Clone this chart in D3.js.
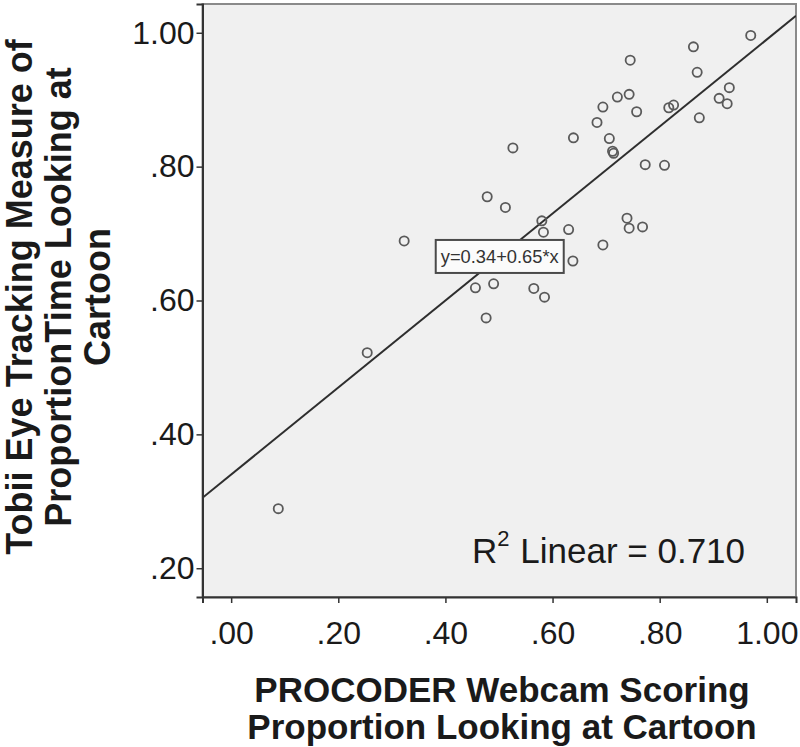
<!DOCTYPE html>
<html>
<head>
<meta charset="utf-8">
<script src="https://cdn.jsdelivr.net/npm/d3@7"></script>
<style>
  html, body { margin: 0; padding: 0; background: #ffffff; }
  svg { display: block; }
  text { font-family: "Liberation Sans", Arial, sans-serif; fill: #1a1a1a; }
</style>
</head>
<body>
<svg id="chart" width="800" height="747"></svg>
<script>
// ---- Data ----
const webcamScores = [0.970, 0.863, 0.745, 0.870, 0.930, 0.911, 0.926, 0.743, 0.721, 0.694,
                      0.757, 0.817, 0.826, 0.874, 0.683, 0.639, 0.706, 0.712, 0.714, 0.526,
                      0.773, 0.809, 0.512, 0.580, 0.583, 0.630, 0.739, 0.743, 0.768, 0.694,
                      0.478, 0.323, 0.254, 0.456, 0.490, 0.476, 0.638, 0.565, 0.585, 0.088];
const tobiiScores  = [0.996, 0.979, 0.959, 0.941, 0.918, 0.902, 0.894, 0.908, 0.904, 0.889,
                      0.882, 0.888, 0.892, 0.873, 0.866, 0.843, 0.842, 0.823, 0.820, 0.828,
                      0.803, 0.802, 0.739, 0.719, 0.702, 0.706, 0.723, 0.708, 0.710, 0.683,
                      0.755, 0.689, 0.522, 0.619, 0.625, 0.574, 0.659, 0.618, 0.605, 0.289];
const fitIntercept = 0.34;
const fitSlope = 0.65;
const rSquared = "0.710";
const equationLabel = "y=0.34+0.65*x";
const xTickValues = [0, 0.2, 0.4, 0.6, 0.8, 1.0];
const yTickValues = [0.2, 0.4, 0.6, 0.8, 1.0];
const xTitleLines = ["PROCODER Webcam Scoring", "Proportion Looking at Cartoon"];
const yTitleLines = ["Tobii Eye Tracking Measure of", "ProportionTime Looking at", "Cartoon"];

const points = webcamScores.map((x, i) => ({x, y: tobiiScores[i]}));

// ---- Layout ----
const svg = d3.select("#chart");
const plot = {left: 202.5, right: 796, top: 4, bottom: 597};

const x = d3.scaleLinear().domain([-0.0535, 1.0545]).range([plot.left, plot.right]);
const y = d3.scaleLinear().domain([0.157, 1.043]).range([plot.bottom, plot.top]);

const fmt = d => d >= 1 ? d3.format(".2f")(d) : d3.format(".2f")(d).replace(/^0/, "");

// plot background
svg.append("rect")
  .attr("x", plot.left).attr("y", plot.top)
  .attr("width", plot.right - plot.left).attr("height", plot.bottom - plot.top)
  .attr("fill", "#f0f0f0")
  .attr("stroke", "#8a8a8a").attr("stroke-width", 2);

svg.append("clipPath").attr("id", "clip")
  .append("rect")
  .attr("x", plot.left).attr("y", plot.top)
  .attr("width", plot.right - plot.left).attr("height", plot.bottom - plot.top);

// fit line
const xd = x.domain();
svg.append("line")
  .attr("clip-path", "url(#clip)")
  .attr("x1", x(xd[0])).attr("y1", y(fitIntercept + fitSlope * xd[0]))
  .attr("x2", x(xd[1])).attr("y2", y(fitIntercept + fitSlope * xd[1]))
  .attr("stroke", "#2e2e2e").attr("stroke-width", 2);

// points
svg.append("g").selectAll("circle")
  .data(points).join("circle")
  .attr("cx", d => x(d.x)).attr("cy", d => y(d.y))
  .attr("r", 4.6)
  .attr("fill", "none")
  .attr("stroke", "#5a5a5a").attr("stroke-width", 1.8);

// equation label box (anchored on the fit line)
const eqX = 0.507, eqY = fitIntercept + fitSlope * 0.507;
const eqG = svg.append("g").attr("transform", `translate(${x(eqX) - 3},${y(eqY) + 2})`);
eqG.append("rect")
  .attr("x", -64).attr("y", -16).attr("width", 128).attr("height", 33)
  .attr("fill", "#fbfbfb").attr("stroke", "#4a4a4a").attr("stroke-width", 2);
eqG.append("text")
  .attr("x", 0).attr("y", 7)
  .attr("text-anchor", "middle")
  .attr("font-size", 18)
  .attr("textLength", 118).attr("lengthAdjust", "spacingAndGlyphs")
  .style("fill", "#333")
  .text(equationLabel);

// axes
const yAxis = d3.axisLeft(y).tickValues(yTickValues).tickFormat(fmt).tickSize(6).tickPadding(2);
const gy = svg.append("g").attr("transform", `translate(${plot.left},0)`).call(yAxis);
const xAxis = d3.axisBottom(x).tickValues(xTickValues).tickFormat(fmt).tickSize(6).tickPadding(18);
const gx = svg.append("g").attr("transform", `translate(0,${plot.bottom})`).call(xAxis);
[gx, gy].forEach(g => {
  g.select(".domain").attr("stroke", "#333").attr("stroke-width", 2);
  g.selectAll(".tick line").attr("stroke", "#333").attr("stroke-width", 1.5);
  g.selectAll(".tick text")
    .attr("font-family", "'Liberation Sans', Arial, sans-serif")
    .attr("font-size", 32).style("fill", "#1a1a1a");
});

// R squared label
const r2 = svg.append("text")
  .attr("x", 472).attr("y", 563)
  .attr("font-size", 35);
r2.append("tspan").text("R");
r2.append("tspan").attr("font-size", 22).attr("dx", 0).attr("dy", -17).text("2");
r2.append("tspan").attr("dy", 17).attr("dx", 1).text(" Linear = " + rSquared);

// x title
svg.append("text")
  .attr("text-anchor", "middle")
  .attr("font-size", 35).attr("font-weight", "bold")
  .selectAll("tspan").data(xTitleLines).join("tspan")
  .attr("x", 502).attr("y", (d, i) => 702 + i * 37)
  .text(d => d);

// y title
svg.append("text")
  .attr("transform", "rotate(-90)")
  .attr("text-anchor", "middle")
  .attr("font-size", 36).attr("font-weight", "bold")
  .selectAll("tspan").data(yTitleLines).join("tspan")
  .attr("x", -297).attr("y", (d, i) => 32 + i * 39)
  .text(d => d);
</script>
</body>
</html>
